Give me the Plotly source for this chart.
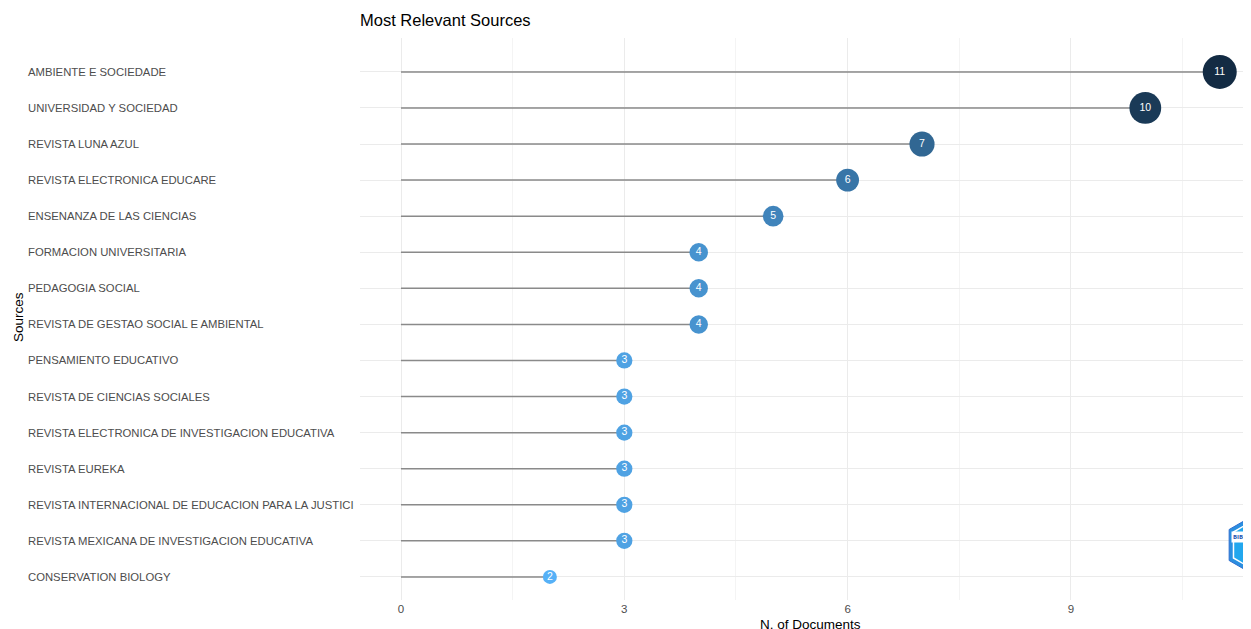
import math
import plotly.graph_objects as go

sources = [
    "AMBIENTE E SOCIEDADE",
    "UNIVERSIDAD Y SOCIEDAD",
    "REVISTA LUNA AZUL",
    "REVISTA ELECTRONICA EDUCARE",
    "ENSENANZA DE LAS CIENCIAS",
    "FORMACION UNIVERSITARIA",
    "PEDAGOGIA SOCIAL",
    "REVISTA DE GESTAO SOCIAL E AMBIENTAL",
    "PENSAMIENTO EDUCATIVO",
    "REVISTA DE CIENCIAS SOCIALES",
    "REVISTA ELECTRONICA DE INVESTIGACION EDUCATIVA",
    "REVISTA EUREKA",
    "REVISTA INTERNACIONAL DE EDUCACION PARA LA JUSTICI",
    "REVISTA MEXICANA DE INVESTIGACION EDUCATIVA",
    "CONSERVATION BIOLOGY",
]
documents = [11, 10, 7, 6, 5, 4, 4, 4, 3, 3, 3, 3, 3, 3, 2]
x_ticks = [0, 3, 6, 9]

# page offset (browser body margin)
OFF = 8
W, H = 1251 - OFF, 629 - OFF
# plot area in reference page pixels
PX0, PX1, PY0, PY1 = 360, 1251, 38, 600
ML, MT = PX0 - OFF, PY0 - OFF
MR, MB = (1251 - PX1), (629 - PY1)
PW, PH = PX1 - PX0, PY1 - PY0

FONT = "Liberation Sans, Arial"

def px2p(px, py):
    return (px - PX0) / PW, (PY1 - py) / PH

cats = list(reversed(sources))
vmin, vmax = min(documents), max(documents)

sx, sy = [], []
for s, v in zip(sources, documents):
    sx += [0, v, None]
    sy += [s, s, None]

sizes = [14 + (v - vmin) * (34 - 14) / (vmax - vmin) for v in documents]

fig = go.Figure()
fig.add_trace(go.Scatter(x=sx, y=sy, mode="lines",
                         line=dict(color="#8a8a8a", width=1.5),
                         hoverinfo="skip", showlegend=False))
fig.add_trace(go.Scatter(
    x=documents, y=sources, mode="markers+text",
    text=[str(v) for v in documents], textposition="middle center",
    textfont=dict(color="white", size=10.5, family=FONT),
    marker=dict(size=sizes, color=documents, cmin=vmin, cmax=vmax,
                colorscale=[[0, "#56B1F7"], [1, "#132B43"]],
                line=dict(width=0), opacity=1),
    showlegend=False))

annotations = []
for s in sources:
    annotations.append(dict(x=px2p(28, 0)[0], xref="paper", y=s, yref="y",
                            text=s, showarrow=False, xanchor="left",
                            yanchor="middle", xshift=-2,
                            font=dict(size=11.3, color="#4d4d4d", family=FONT)))
sx_, sy_ = px2p(18, 317)
annotations.append(dict(x=sx_, xref="paper", y=sy_, yref="paper",
                        text="Sources", textangle=-90, showarrow=False,
                        xanchor="center", yanchor="middle",
                        font=dict(size=13.5, color="black", family=FONT)))
nx_, ny_ = px2p(810, 624)
annotations.append(dict(x=nx_, xref="paper", y=ny_, yref="paper",
                        text="N. of Documents", showarrow=False,
                        xanchor="center", yanchor="middle",
                        font=dict(size=13.5, color="black", family=FONT)))

# bibliometrix-like logo, partially visible at right edge
def hexpath(cx, cy, r):
    pts = []
    for k in range(6):
        a = math.radians(90 + 60 * k)
        pts.append(px2p(cx + r * math.cos(a), cy - r * math.sin(a)))
    return "M " + " L ".join(f"{x:.5f},{y:.5f}" for x, y in pts) + " Z"

cx, cy, r = 1256, 545, 31
shapes = [
    dict(type="path", xref="paper", yref="paper", path=hexpath(cx, cy, r),
         fillcolor="#2a8fe0", line=dict(color="#2f6fd0", width=1), layer="above"),
    dict(type="path", xref="paper", yref="paper", path=hexpath(cx, cy, r - 5),
         fillcolor="#22a7ee", line=dict(color="white", width=1.5), layer="above"),
]
lx, ly = px2p(1243, 537)
annotations.append(dict(x=lx, y=ly, xref="paper", yref="paper", text="<b>BIBLIO</b>",
                        showarrow=False, font=dict(size=6, color="#1a4fb0"),
                        xanchor="center", yanchor="middle", bgcolor="white"))

fig.update_layout(
    width=W, height=H,
    margin=dict(l=ML, r=MR, t=MT, b=MB, pad=0),
    paper_bgcolor="white", plot_bgcolor="white",
    title=dict(text="Most Relevant Sources", x=ML / W, xanchor="left",
               y=1 - (20 - OFF) / H, yanchor="middle",
               font=dict(size=16.5, color="black", family=FONT)),
    xaxis=dict(range=[-0.551, 11.42], tickvals=x_ticks, showgrid=True,
               gridcolor="#ebebeb", gridwidth=1, zeroline=False,
               showline=False, ticks="",
               tickfont=dict(size=11.5, color="#4d4d4d", family=FONT),
               minor=dict(dtick=1.5, tick0=0, showgrid=True,
                          gridcolor="#f4f4f4", gridwidth=1)),
    yaxis=dict(type="category", categoryorder="array", categoryarray=cats,
               range=[-0.64, 14.94], showticklabels=False, showgrid=True,
               gridcolor="#ebebeb", gridwidth=1, zeroline=False,
               showline=False, ticks=""),
    annotations=annotations,
    shapes=shapes,
)

fig.write_html("out.html")
